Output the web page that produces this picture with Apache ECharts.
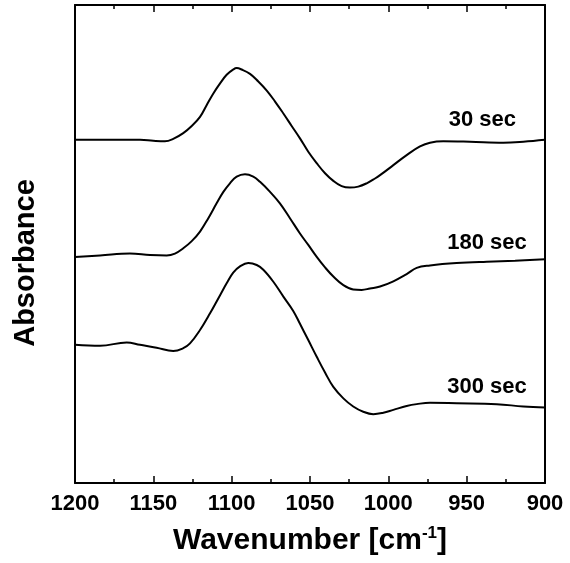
<!DOCTYPE html>
<html>
<head>
<meta charset="utf-8">
<script src="https://cdn.jsdelivr.net/npm/echarts@6/dist/echarts.min.js"></script>
<style>
  html, body { margin: 0; padding: 0; background: #fff; }
  #chart { width: 570px; height: 563px; }
</style>
</head>
<body>
<div id="chart"></div>
<script>
// wavenumber / absorbance (offset, arbitrary units)
var wn30 = [1200, 1180, 1165, 1158.5, 1150.0, 1142.6, 1137.3, 1130.9, 1125.5, 1120.2, 1115.9, 1111.7, 1107.4, 1103.2, 1099.0, 1096.8, 1093.6, 1088.3, 1083.0, 1077.6, 1072.3, 1067.0, 1061.7, 1056.4, 1051.1, 1045.7, 1040.4, 1035.1, 1029.8, 1024.5, 1019.2, 1013.8, 1008.5, 1005.3, 996.8, 988.3, 979.8, 973.4, 964.9, 947.9, 926.6, 913.8, 900];
var abs30 = [0.718, 0.718, 0.718, 0.718, 0.716, 0.715, 0.720, 0.732, 0.747, 0.766, 0.791, 0.815, 0.836, 0.854, 0.865, 0.868, 0.865, 0.856, 0.840, 0.821, 0.798, 0.773, 0.747, 0.721, 0.693, 0.669, 0.648, 0.632, 0.621, 0.618, 0.620, 0.627, 0.637, 0.644, 0.665, 0.686, 0.704, 0.712, 0.715, 0.714, 0.712, 0.714, 0.718];

var wn180 = [1200, 1184, 1164.9, 1152.1, 1141.5, 1136.2, 1130.9, 1125.5, 1120.2, 1114.9, 1109.6, 1105.3, 1101.1, 1096.8, 1091.5, 1086.2, 1081.9, 1075.5, 1069.2, 1062.8, 1056.4, 1051.1, 1045.7, 1040.4, 1035.1, 1028.7, 1022.4, 1017.0, 1011.7, 1005.3, 996.8, 988.3, 981.9, 973.4, 956.4, 937.2, 919.1, 900];
var abs180 = [0.473, 0.476, 0.480, 0.477, 0.476, 0.480, 0.491, 0.506, 0.526, 0.554, 0.585, 0.609, 0.627, 0.641, 0.646, 0.641, 0.630, 0.609, 0.585, 0.554, 0.522, 0.498, 0.473, 0.451, 0.432, 0.414, 0.405, 0.404, 0.407, 0.411, 0.422, 0.437, 0.450, 0.455, 0.460, 0.463, 0.465, 0.468];

var wn300 = [1200, 1184, 1167, 1158.5, 1147.9, 1137.3, 1130.9, 1126.6, 1120.2, 1113.8, 1107.4, 1103.2, 1099.0, 1094.7, 1089.4, 1084.0, 1079.8, 1073.4, 1067.0, 1060.7, 1056.4, 1051.1, 1045.7, 1040.4, 1035.1, 1028.7, 1022.4, 1016.0, 1009.6, 1003.2, 996.8, 988.3, 981.9, 973.4, 956.4, 930.8, 913.8, 900];
var abs300 = [0.289, 0.287, 0.294, 0.289, 0.283, 0.276, 0.282, 0.292, 0.320, 0.355, 0.393, 0.418, 0.440, 0.453, 0.460, 0.456, 0.446, 0.421, 0.390, 0.360, 0.333, 0.299, 0.264, 0.231, 0.201, 0.177, 0.160, 0.149, 0.144, 0.147, 0.153, 0.161, 0.165, 0.168, 0.167, 0.165, 0.160, 0.158];

var seriesNames = ['30 sec', '180 sec', '300 sec'];
var xTicks = [1200, 1150, 1100, 1050, 1000, 950, 900];

var font = '"Liberation Sans", Arial, sans-serif';

function pairs(xs, ys) {
	var out = [];
	for (var i = 0; i < xs.length; i++) out.push([xs[i], ys[i]]);
	return out;
}

// where each trace's label sits (data coords)
var labelAt = [[940, 0.759], [937, 0.502], [937, 0.201]];
var traces = [pairs(wn30, abs30), pairs(wn180, abs180), pairs(wn300, abs300)];

var series = traces.map(function(d, i) {
	return {
		name : seriesNames[i],
		type : 'line',
		data : d,
		smooth : 0.4,
		showSymbol : false,
		lineStyle : { color : '#000', width : 2 },
		markPoint : {
			symbol : 'circle',
			symbolSize : 0,
			data : [ { coord : labelAt[i], value : seriesNames[i] } ],
			label : {
				show : true,
				formatter : seriesNames[i],
				color : '#000',
				fontFamily : font,
				fontWeight : 'bold',
				fontSize : 22,
				position : 'inside'
			}
		}
	};
});

var chart = echarts.init(document.getElementById('chart'));
var baseX = {
	type : 'value',
	min : 900,
	max : 1200,
	interval : 50,
	inverse : true,
	axisLine : { show : true, onZero : false, lineStyle : { color : '#000', width : 2 } },
	axisTick : { show : true, inside : true, length : 7, lineStyle : { color : '#000', width : 1.5 } },
	minorTick : { show : true, splitNumber : 2, length : 4, lineStyle : { color : '#000', width : 1.5 } },
	splitLine : { show : false }
};
chart.setOption({
	animation : false,
	grid : { left : 75, right : 25, top : 5, bottom : 80 },
	xAxis : [
		echarts.util.merge({
			position : 'bottom',
			axisLabel : {
				color : '#000', fontFamily : font, fontWeight : 'bold', fontSize : 22, margin : 10,
				formatter : function(v) { return xTicks.indexOf(v) >= 0 ? String(v) : ''; }
			},
			name : 'Wavenumber [cm{sup|-1}]',
			nameLocation : 'middle',
			nameGap : 42,
			nameTextStyle : {
				color : '#000', fontFamily : font, fontWeight : 'bold', fontSize : 30,
				rich : { sup : { fontFamily : font, fontWeight : 'bold', fontSize : 17, verticalAlign : 'top', padding : [0, 0, 15, 0] } }
			}
		}, baseX, true),
		echarts.util.merge({
			position : 'top',
			axisLabel : { show : false }
		}, baseX, true)
	],
	yAxis : [ {
		type : 'value',
		min : 0,
		max : 1,
		axisLine : { show : true, lineStyle : { color : '#000', width : 2 } },
		axisTick : { show : false },
		axisLabel : { show : false },
		splitLine : { show : false },
		name : 'Absorbance',
		nameLocation : 'middle',
		nameGap : 35,
		nameTextStyle : { color : '#000', fontFamily : font, fontWeight : 'bold', fontSize : 29, padding : [0, 38, 0, 0] }
	}, {
		type : 'value',
		min : 0,
		max : 1,
		position : 'right',
		axisLine : { show : true, lineStyle : { color : '#000', width : 2 } },
		axisTick : { show : false },
		axisLabel : { show : false },
		splitLine : { show : false }
	} ],
	series : series
});
</script>
</body>
</html>
